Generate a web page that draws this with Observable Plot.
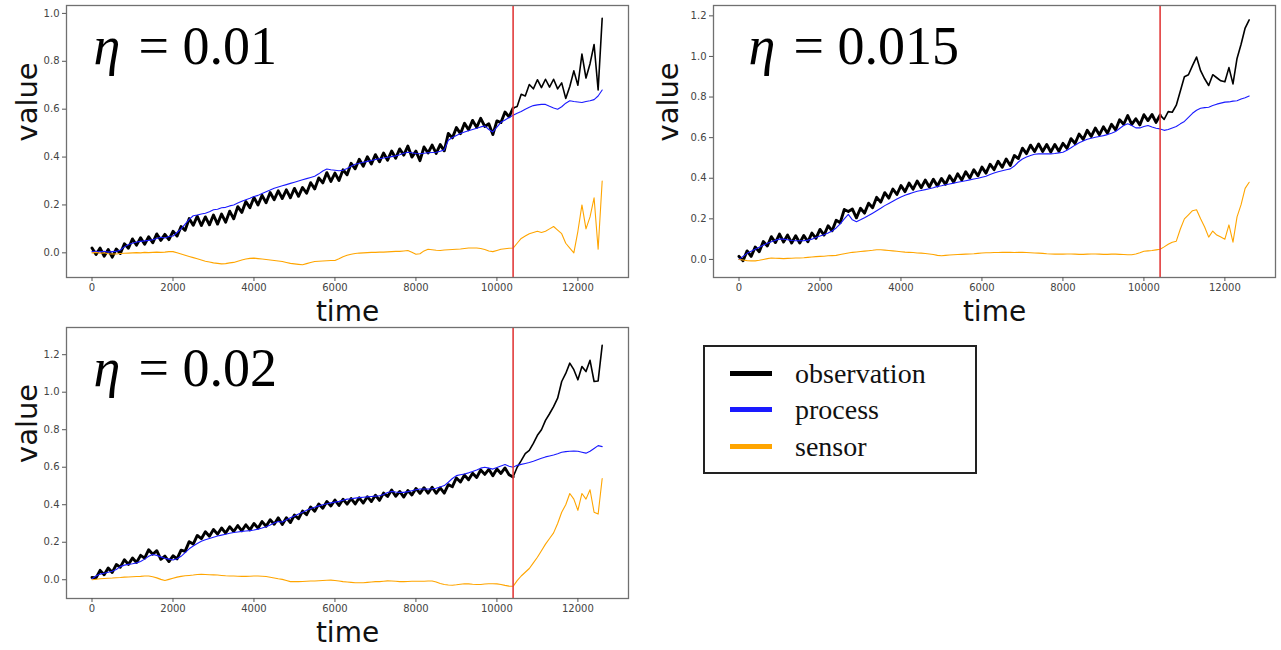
<!DOCTYPE html>
<html><head><meta charset="utf-8">
<script src="https://cdn.jsdelivr.net/npm/d3@7"></script>
<script src="https://cdn.jsdelivr.net/npm/@observablehq/plot@0.6"></script>
<style>
body{margin:0;background:#fff;}
#fig{position:relative;width:1281px;height:650px;background:#fff;overflow:hidden;}
#legend{position:absolute;left:703px;top:345px;width:274px;height:129px;box-sizing:border-box;border:2px solid #222;background:#fff;}
.sw{position:absolute;left:25px;width:42px;height:5px;}
.lt{position:absolute;left:90px;font-family:"Liberation Serif","Times New Roman",serif;font-size:28px;line-height:28px;color:#111;white-space:nowrap;}
</style></head><body><div id="fig"></div><script>
const time = [0,100,200,300,400,500,600,700,800,900,1000,1100,1200,1300,1400,1500,1600,1700,1800,1900,2000,2100,2200,2300,2400,2500,2600,2700,2800,2900,3000,3100,3200,3300,3400,3500,3600,3700,3800,3900,4000,4100,4200,4300,4400,4500,4600,4700,4800,4900,5000,5100,5200,5300,5400,5500,5600,5700,5800,5900,6000,6100,6200,6300,6400,6500,6600,6700,6800,6900,7000,7100,7200,7300,7400,7500,7600,7700,7800,7900,8000,8100,8200,8300,8400,8500,8600,8700,8800,8900,9000,9100,9200,9300,9400,9500,9600,9700,9800,9900,10000,10100,10200,10300,10400,10500,10600,10700,10800,10900,11000,11100,11200,11300,11400,11500,11600,11700,11800,11900,12000,12100,12200,12300,12400,12500,12600];
const changePoint = 10400;
const xTicks = [0,2000,4000,6000,8000,10000,12000];
const yTicks1 = [0,0.2,0.4,0.6,0.8,1.0];
const yTicks2 = [0,0.2,0.4,0.6,0.8,1.0,1.2];
const etaValues = ["= 0.01","= 0.015","= 0.02"];
const legendLabels = ["observation","process","sensor"];
const seriesColors = ["#000000","#1a1aff","#ffa500"];

// eta = 0.01
const obs1 = [0.02,-0.007,0.02,-0.014,0.014,-0.018,0.016,-0.003,0.038,0.019,
0.058,0.032,0.063,0.036,0.067,0.042,0.079,0.052,0.077,0.055,
0.09,0.07,0.11,0.094,0.143,0.115,0.153,0.114,0.15,0.117,
0.158,0.12,0.162,0.128,0.174,0.142,0.193,0.169,0.214,0.188,
0.231,0.2,0.24,0.209,0.252,0.222,0.259,0.227,0.263,0.23,
0.269,0.236,0.273,0.249,0.293,0.267,0.313,0.292,0.335,0.298,
0.333,0.302,0.347,0.326,0.374,0.351,0.391,0.362,0.401,0.371,
0.41,0.38,0.417,0.387,0.425,0.395,0.434,0.408,0.446,0.40,
0.425,0.385,0.442,0.417,0.45,0.415,0.452,0.426,0.499,0.48,
0.523,0.498,0.541,0.514,0.553,0.524,0.562,0.528,0.539,0.494,
0.551,0.544,0.588,0.568,0.605,0.611,0.662,0.655,0.703,0.685,
0.723,0.69,0.725,0.692,0.725,0.685,0.71,0.645,0.695,0.76,
0.70,0.83,0.73,0.79,0.87,0.68,0.98];
const proc1 = [0.005,0.006,0.004,0.006,0.003,0.005,0.006,0.012,0.025,0.035,
0.04,0.045,0.048,0.05,0.052,0.055,0.06,0.065,0.062,0.068,
0.07,0.085,0.10,0.12,0.14,0.155,0.158,0.162,0.165,0.172,
0.18,0.182,0.188,0.19,0.196,0.20,0.208,0.215,0.222,0.228,
0.235,0.24,0.248,0.255,0.262,0.27,0.275,0.28,0.285,0.29,
0.295,0.3,0.305,0.31,0.315,0.32,0.33,0.342,0.35,0.347,
0.345,0.343,0.345,0.352,0.362,0.37,0.374,0.378,0.382,0.386,
0.39,0.393,0.396,0.399,0.402,0.405,0.41,0.416,0.42,0.418,
0.415,0.414,0.416,0.418,0.419,0.42,0.424,0.43,0.47,0.482,
0.49,0.498,0.505,0.51,0.515,0.52,0.526,0.53,0.515,0.505,
0.525,0.545,0.555,0.565,0.575,0.583,0.59,0.60,0.608,0.615,
0.618,0.62,0.62,0.612,0.605,0.60,0.61,0.625,0.635,0.632,
0.63,0.628,0.632,0.635,0.64,0.655,0.68];
const sens1 = [0.0,0.002,-0.002,0.0,-0.004,-0.005,-0.005,-0.003,-0.002,-0.001,
0.0,0.001,0.0,0.002,0.001,0.002,0.003,0.002,0.003,0.005,
0.005,0.0,-0.005,-0.01,-0.015,-0.02,-0.025,-0.03,-0.035,-0.038,
-0.042,-0.044,-0.046,-0.045,-0.042,-0.04,-0.035,-0.03,-0.026,-0.023,
-0.022,-0.024,-0.026,-0.028,-0.03,-0.032,-0.034,-0.036,-0.04,-0.044,
-0.046,-0.048,-0.05,-0.045,-0.04,-0.036,-0.035,-0.034,-0.033,-0.032,
-0.032,-0.025,-0.016,-0.01,-0.006,-0.003,-0.001,0.0,0.001,0.002,
0.002,0.003,0.003,0.004,0.005,0.006,0.006,0.008,0.01,0.002,
-0.006,-0.004,0.008,0.015,0.013,0.011,0.01,0.012,0.013,0.014,
0.015,0.016,0.018,0.02,0.02,0.02,0.018,0.014,0.008,0.005,
0.01,0.015,0.017,0.019,0.02,0.04,0.06,0.07,0.08,0.085,
0.09,0.085,0.09,0.1,0.11,0.095,0.08,0.04,0.02,0.0,
0.09,0.20,0.10,0.15,0.23,0.015,0.30];

// eta = 0.015
const obs2 = [0.015,-0.006,0.042,0.015,0.061,0.038,0.088,0.066,0.112,0.083,
0.125,0.086,0.12,0.081,0.117,0.081,0.118,0.087,0.13,0.104,
0.148,0.12,0.166,0.141,0.193,0.181,0.246,0.236,0.248,0.205,
0.252,0.228,0.277,0.255,0.306,0.282,0.329,0.302,0.347,0.32,
0.364,0.334,0.376,0.346,0.386,0.353,0.391,0.357,0.395,0.362,
0.399,0.37,0.412,0.381,0.422,0.391,0.432,0.401,0.442,0.412,
0.455,0.425,0.469,0.442,0.484,0.454,0.495,0.463,0.512,0.497,
0.548,0.521,0.563,0.532,0.569,0.532,0.566,0.529,0.566,0.533,
0.572,0.547,0.595,0.571,0.618,0.591,0.636,0.606,0.647,0.614,
0.653,0.622,0.666,0.638,0.688,0.666,0.709,0.665,0.693,0.663,
0.713,0.684,0.714,0.675,0.711,0.69,0.728,0.725,0.76,0.83,
0.90,0.91,0.955,0.997,0.93,0.89,0.857,0.91,0.895,0.88,
0.875,0.945,0.865,0.99,1.06,1.14,1.18];
const proc2 = [0.0,0.015,0.03,0.04,0.05,0.06,0.07,0.08,0.087,0.095,
0.10,0.10,0.097,0.093,0.092,0.092,0.092,0.095,0.1,0.108,
0.115,0.122,0.13,0.14,0.155,0.175,0.2,0.222,0.195,0.186,
0.195,0.205,0.216,0.228,0.24,0.252,0.265,0.276,0.287,0.298,
0.308,0.316,0.323,0.33,0.336,0.34,0.344,0.348,0.353,0.36,
0.363,0.368,0.372,0.376,0.38,0.384,0.388,0.392,0.396,0.40,
0.405,0.41,0.418,0.426,0.432,0.437,0.442,0.446,0.46,0.48,
0.495,0.505,0.512,0.518,0.52,0.52,0.52,0.52,0.522,0.525,
0.528,0.538,0.55,0.563,0.575,0.584,0.592,0.597,0.602,0.606,
0.61,0.615,0.622,0.63,0.645,0.66,0.668,0.66,0.648,0.648,
0.655,0.66,0.652,0.646,0.643,0.636,0.64,0.648,0.655,0.668,
0.68,0.70,0.72,0.735,0.745,0.748,0.75,0.758,0.765,0.77,
0.775,0.776,0.78,0.782,0.79,0.797,0.805];
const sens2 = [0.0,-0.003,-0.006,-0.007,-0.007,-0.004,0.0,0.004,0.007,0.006,
0.005,0.004,0.005,0.006,0.007,0.007,0.008,0.01,0.012,0.014,
0.015,0.016,0.018,0.019,0.02,0.024,0.028,0.032,0.035,0.037,
0.039,0.041,0.043,0.045,0.048,0.048,0.046,0.044,0.042,0.04,
0.038,0.036,0.035,0.034,0.032,0.031,0.029,0.027,0.024,0.02,
0.018,0.02,0.022,0.023,0.024,0.025,0.026,0.027,0.028,0.03,
0.032,0.033,0.033,0.034,0.034,0.035,0.035,0.035,0.034,0.035,
0.035,0.034,0.033,0.032,0.031,0.03,0.028,0.027,0.026,0.026,
0.026,0.027,0.027,0.026,0.025,0.025,0.026,0.027,0.027,0.026,
0.025,0.025,0.026,0.026,0.025,0.024,0.023,0.023,0.027,0.033,
0.04,0.042,0.044,0.047,0.05,0.062,0.075,0.085,0.09,0.15,
0.20,0.22,0.24,0.245,0.20,0.16,0.11,0.14,0.12,0.11,
0.10,0.17,0.085,0.21,0.27,0.35,0.38];

// eta = 0.02
const obs3 = [0.012,0.01,0.05,0.027,0.063,0.039,0.081,0.067,0.107,0.082,
0.116,0.092,0.13,0.115,0.16,0.136,0.155,0.109,0.126,0.097,
0.128,0.111,0.158,0.151,0.203,0.19,0.236,0.219,0.256,0.232,
0.268,0.243,0.276,0.249,0.283,0.257,0.289,0.261,0.293,0.266,
0.30,0.275,0.31,0.285,0.32,0.296,0.33,0.295,0.331,0.305,
0.345,0.325,0.366,0.347,0.388,0.365,0.404,0.381,0.417,0.393,
0.425,0.396,0.429,0.403,0.433,0.404,0.437,0.409,0.443,0.417,
0.451,0.423,0.462,0.444,0.479,0.445,0.471,0.441,0.476,0.452,
0.487,0.461,0.491,0.462,0.493,0.461,0.49,0.462,0.507,0.496,
0.543,0.521,0.558,0.533,0.568,0.545,0.585,0.562,0.589,0.554,
0.591,0.567,0.596,0.56,0.548,0.60,0.635,0.673,0.69,0.727,
0.77,0.80,0.85,0.885,0.923,0.968,1.057,1.10,1.155,1.12,
1.066,1.137,1.11,1.17,1.057,1.06,1.25];
const proc3 = [0.005,0.02,0.03,0.035,0.04,0.045,0.055,0.07,0.078,0.082,
0.085,0.09,0.097,0.11,0.125,0.135,0.13,0.122,0.115,0.11,
0.105,0.112,0.125,0.145,0.165,0.18,0.193,0.205,0.213,0.22,
0.227,0.233,0.238,0.243,0.248,0.252,0.255,0.258,0.26,0.262,
0.265,0.27,0.276,0.283,0.292,0.302,0.31,0.308,0.32,0.33,
0.34,0.35,0.36,0.37,0.38,0.387,0.394,0.40,0.405,0.41,
0.414,0.418,0.424,0.43,0.432,0.435,0.438,0.44,0.442,0.444,
0.446,0.448,0.455,0.465,0.471,0.468,0.466,0.466,0.47,0.475,
0.48,0.484,0.484,0.484,0.485,0.488,0.495,0.502,0.52,0.54,
0.555,0.56,0.564,0.57,0.577,0.585,0.595,0.60,0.595,0.59,
0.598,0.607,0.614,0.605,0.60,0.61,0.615,0.62,0.625,0.632,
0.64,0.648,0.655,0.66,0.665,0.672,0.68,0.683,0.685,0.686,
0.685,0.68,0.675,0.685,0.70,0.715,0.71];
const sens3 = [0.0,0.003,0.005,0.007,0.008,0.009,0.011,0.012,0.014,0.015,
0.016,0.017,0.018,0.02,0.02,0.016,0.01,0.002,-0.004,0.002,
0.008,0.014,0.018,0.021,0.023,0.025,0.028,0.029,0.028,0.027,
0.026,0.025,0.023,0.021,0.02,0.02,0.019,0.018,0.018,0.019,
0.02,0.02,0.019,0.017,0.013,0.009,0.005,0.002,-0.004,-0.01,
-0.01,-0.01,-0.009,-0.008,-0.007,-0.007,-0.005,-0.004,-0.003,-0.002,
-0.004,-0.007,-0.01,-0.012,-0.014,-0.016,-0.016,-0.016,-0.014,-0.012,
-0.01,-0.01,-0.008,-0.006,-0.007,-0.008,-0.01,-0.01,-0.009,-0.008,
-0.008,-0.008,-0.008,-0.007,-0.007,-0.012,-0.02,-0.025,-0.028,-0.029,
-0.027,-0.024,-0.021,-0.022,-0.024,-0.025,-0.025,-0.023,-0.021,-0.021,
-0.022,-0.025,-0.03,-0.034,-0.035,-0.005,0.02,0.04,0.06,0.09,
0.12,0.155,0.19,0.22,0.25,0.30,0.36,0.40,0.46,0.43,
0.37,0.46,0.43,0.48,0.36,0.35,0.54];

const fig = document.getElementById("fig");

function panel(o) {
  const rows = time.map((t, i) => ({t, obs: o.obs[i], proc: o.proc[i], sens: o.sens[i]}));
  const p = Plot.plot({
    width: o.width, height: o.height,
    marginLeft: o.mL, marginRight: o.mR, marginTop: o.mT, marginBottom: o.mB,
    style: {fontFamily: "DejaVu Sans", fontSize: "10px", color: "#444", background: "transparent", overflow: "visible"},
    x: {domain: [-630, 13250]},
    y: {domain: o.yDomain},
    marks: [
      Plot.line(rows, {filter: d => d.t <= changePoint, x: "t", y: "obs", stroke: seriesColors[0], strokeWidth: 2.9}),
      Plot.line(rows, {filter: d => d.t >= changePoint, x: "t", y: "obs", stroke: seriesColors[0], strokeWidth: 1.6}),
      Plot.line(rows, {x: "t", y: "proc", stroke: seriesColors[1], strokeWidth: 1.1}),
      Plot.line(rows, {x: "t", y: "sens", stroke: seriesColors[2], strokeWidth: 1.1}),
      Plot.ruleX([changePoint], {stroke: "#e23b3b", strokeWidth: 1.6}),
      Plot.frame({stroke: "#707070", strokeWidth: 1.3}),
      Plot.axisX({ticks: xTicks, tickFormat: d => String(d), tickSize: 4, tickPadding: 2.5, label: null, stroke: "#555", fontSize: 10}),
      Plot.axisY({ticks: o.yTicks, tickFormat: d3.format(".1f"), tickSize: 4, tickPadding: 3, label: null, stroke: "#555", fontSize: 10}),
      Plot.text(["time"], {frameAnchor: "bottom", dy: o.timeDy, fontSize: 28, fill: "#111", fontFamily: "DejaVu Sans", lineAnchor: "middle"}),
      Plot.text(["value"], {frameAnchor: "left", dx: o.valueDx, rotate: -90, fontSize: 29, fill: "#111", fontFamily: "DejaVu Sans"}),
      Plot.text(["η"], {frameAnchor: "top-left", dx: o.etaDx, dy: 41, textAnchor: "start", lineAnchor: "middle", fontSize: 54, fontStyle: "italic", fontFamily: "Liberation Serif", fill: "#000"}),
      Plot.text([o.eta], {frameAnchor: "top-left", dx: o.etaDx + 45, dy: 41, textAnchor: "start", lineAnchor: "middle", fontSize: 54, fontFamily: "Liberation Serif", fill: "#000"})
    ]
  });
  p.style.position = "absolute";
  p.style.left = o.left + "px";
  p.style.top = o.top + "px";
  fig.appendChild(p);
}

panel({obs: obs1, proc: proc1, sens: sens1, eta: etaValues[0], yDomain: [-0.103, 1.033], yTicks: yTicks1,
  left: 0, top: 0, width: 640, height: 325, mL: 66, mR: 12, mT: 5, mB: 48, timeDy: 35, valueDx: -39, etaDx: 27});
panel({obs: obs2, proc: proc2, sens: sens2, eta: etaValues[1], yDomain: [-0.089, 1.251], yTicks: yTicks2,
  left: 640, top: 0, width: 641, height: 325, mL: 73, mR: 6, mT: 5, mB: 48, timeDy: 35, valueDx: -45, etaDx: 35});
panel({obs: obs3, proc: proc3, sens: sens3, eta: etaValues[2], yDomain: [-0.1, 1.345], yTicks: yTicks2,
  left: 0, top: 322, width: 640, height: 328, mL: 66, mR: 12, mT: 5, mB: 52, timeDy: 34.5, valueDx: -39, etaDx: 27});

// legend
const legend = document.createElement("div");
legend.id = "legend";
const centers = [373, 409, 446];
legendLabels.forEach((lab, i) => {
  const c = centers[i] - 345 - 2;
  const sw = document.createElement("div");
  sw.className = "sw";
  sw.style.top = (c - 2.5) + "px";
  sw.style.background = seriesColors[i];
  legend.appendChild(sw);
  const tx = document.createElement("div");
  tx.className = "lt";
  tx.style.top = (c + 10 - 23.4) + "px";
  tx.textContent = lab;
  legend.appendChild(tx);
});
fig.appendChild(legend);
</script></body></html>
